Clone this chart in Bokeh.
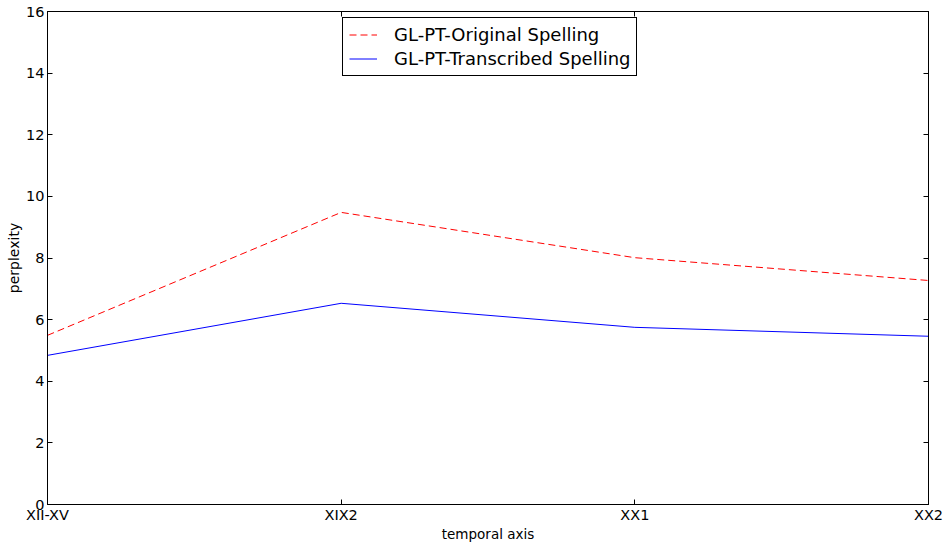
from bokeh.plotting import figure
from bokeh.models import Range1d, LinearAxis, FixedTicker, Legend, LegendItem
from bokeh.embed import file_html
from bokeh.resources import INLINE

categories = ["XII-XV", "XIX2", "XX1", "XX2"]
original = [5.49, 9.48, 8.01, 7.27]
transcribed = [4.84, 6.53, 5.75, 5.46]
y_ticks = [0, 2, 4, 6, 8, 10, 12, 14, 16]

xs = list(range(len(categories)))
FONT = "DejaVu Sans"

p = figure(width=946, height=545, output_backend="svg", toolbar_location=None,
           x_range=Range1d(0, len(categories) - 1), y_range=Range1d(0, 16),
           min_border_left=47, min_border_right=18, min_border_top=11, min_border_bottom=41)
p.xgrid.visible = False
p.ygrid.visible = False
p.outline_line_color = "black"
p.outline_line_width = 1
p.background_fill_color = "white"
p.border_fill_color = "white"

r1 = p.line(xs, original, line_color="#ff0000", line_width=1, line_dash="7 4")
r2 = p.line(xs, transcribed, line_color="#0000ff", line_width=1)

def style(ax):
    ax.major_tick_in = 5
    ax.major_tick_out = 0
    ax.minor_tick_in = 0
    ax.minor_tick_out = 0
    ax.axis_line_color = "black"
    ax.major_tick_line_color = "black"
    ax.major_label_text_font = FONT
    ax.major_label_text_font_size = "14.5px"
    ax.major_label_text_color = "black"
    ax.axis_label_text_font = FONT
    ax.axis_label_text_font_size = "13.5px"
    ax.axis_label_text_font_style = "normal"
    ax.axis_label_text_color = "black"

xt = FixedTicker(ticks=xs)
yt = FixedTicker(ticks=y_ticks)

p.xaxis.ticker = xt
p.xaxis.major_label_overrides = {i: c for i, c in enumerate(categories)}
p.xaxis.axis_label = "temporal axis"
p.xaxis.major_label_standoff = 2
p.xaxis.axis_label_standoff = 0
style(p.xaxis[0])

p.yaxis.ticker = yt
p.yaxis.axis_label = "perplexity"
p.yaxis.major_label_standoff = 3
p.yaxis.axis_label_standoff = 1
style(p.yaxis[0])
p.yaxis.axis_label_text_font_size = "14px"

top = LinearAxis(ticker=xt)
style(top)
top.major_label_standoff = 0
top.major_label_overrides = {i: "" for i in xs}
p.add_layout(top, "above")
right = LinearAxis(ticker=yt)
style(right)
right.major_label_standoff = 0
right.major_label_overrides = {t: "" for t in y_ticks}
p.add_layout(right, "right")

legend = Legend(items=[LegendItem(label="GL-PT-Original Spelling", renderers=[r1]),
                       LegendItem(label="GL-PT-Transcribed Spelling", renderers=[r2])],
                location=(295, 428))
legend.label_text_font = FONT
legend.label_text_font_size = "18px"
legend.label_text_color = "black"
legend.border_line_color = "black"
legend.border_line_width = 1
legend.border_line_alpha = 1
legend.background_fill_alpha = 1
legend.glyph_width = 28
legend.glyph_height = 21
legend.label_height = 21
legend.label_standoff = 17
legend.spacing = 3
legend.padding = 6
legend.margin = 0
p.add_layout(legend, "center")

open("out.html", "w").write(file_html(p, INLINE))
